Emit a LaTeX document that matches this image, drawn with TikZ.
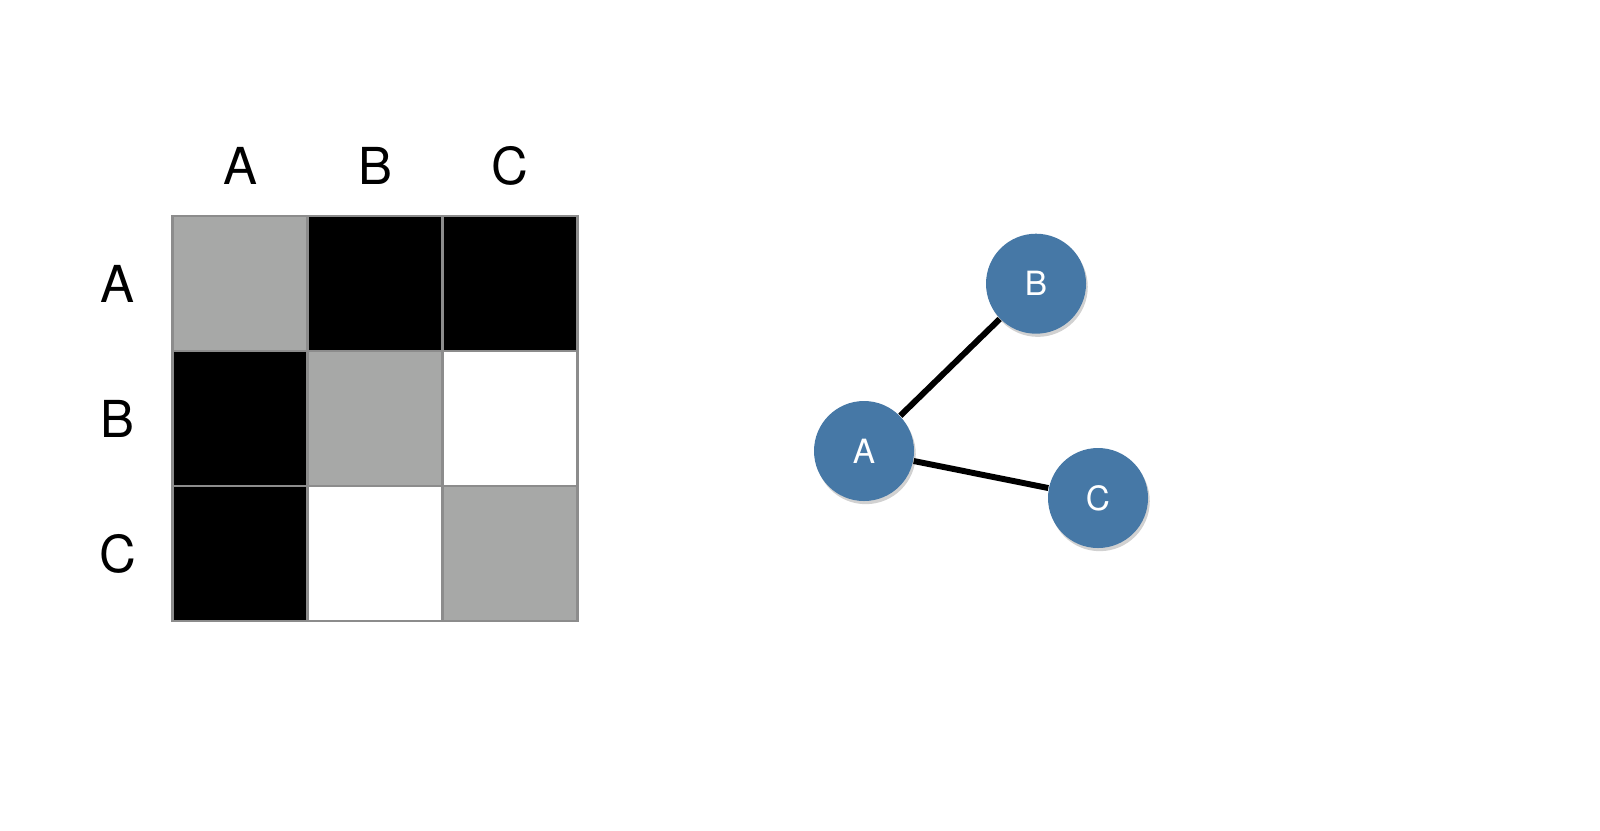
\documentclass[tikz,border=0pt]{standalone}
\usepackage{fontspec}
\setmainfont{TeX Gyre Heros}
\usetikzlibrary{positioning,shadows}

\definecolor{cellgray}{HTML}{A7A8A7}
\definecolor{gridline}{HTML}{8C8C8C}
\definecolor{nodeblue}{HTML}{4678A6}

\tikzset{
  cell/.style={draw=gridline, line width=0.6pt, minimum size=1.35cm, inner sep=0pt, outer sep=0pt},
  lbl/.style={font=\fontsize{14.5}{16}\selectfont},
  vertex/.style={circle, fill=nodeblue, minimum size=1cm, inner sep=0pt, text=white,
    font=\fontsize{9.5}{11}\selectfont,
    drop shadow={shadow xshift=0.5pt, shadow yshift=-0.9pt, fill=black!60, opacity=0.3}},
  edge/.style={line width=1.7pt}
}

\begin{document}
\begin{tikzpicture}
    \useasboundingbox (0,0) rectangle (16,8.3);

    % adjacency matrix
    \foreach \row/\col/\x/\y/\shade in {
        A/A/2.40/5.462/cellgray, A/B/3.75/5.462/black, A/C/5.10/5.462/black,
        B/A/2.40/4.112/black, B/B/3.75/4.112/cellgray, B/C/5.10/4.112/white,
        C/A/2.40/2.762/black, C/B/3.75/2.762/white, C/C/5.10/2.762/cellgray}
        \node[cell, fill=\shade] (cell\row\col) at (\x,\y) {};

    \foreach \col in {A,B,C}
        \node[lbl] (top\col) at ([yshift=1.18cm]cellA\col.center) {\col};
    \foreach \row in {A,B,C}
        \node[lbl] (side\row) at ([xshift=-1.225cm]cell\row A.center) {\row};

    % graph
    \node[vertex] (A) at (8.64,3.79) {A};
    \node[vertex] (B) at (10.36,5.463) {B};
    \node[vertex] (C) at (10.98,3.32) {C};

    \draw[edge] (A) -- (B);
    \draw[edge] (A) -- (C);
\end{tikzpicture}
\end{document}
